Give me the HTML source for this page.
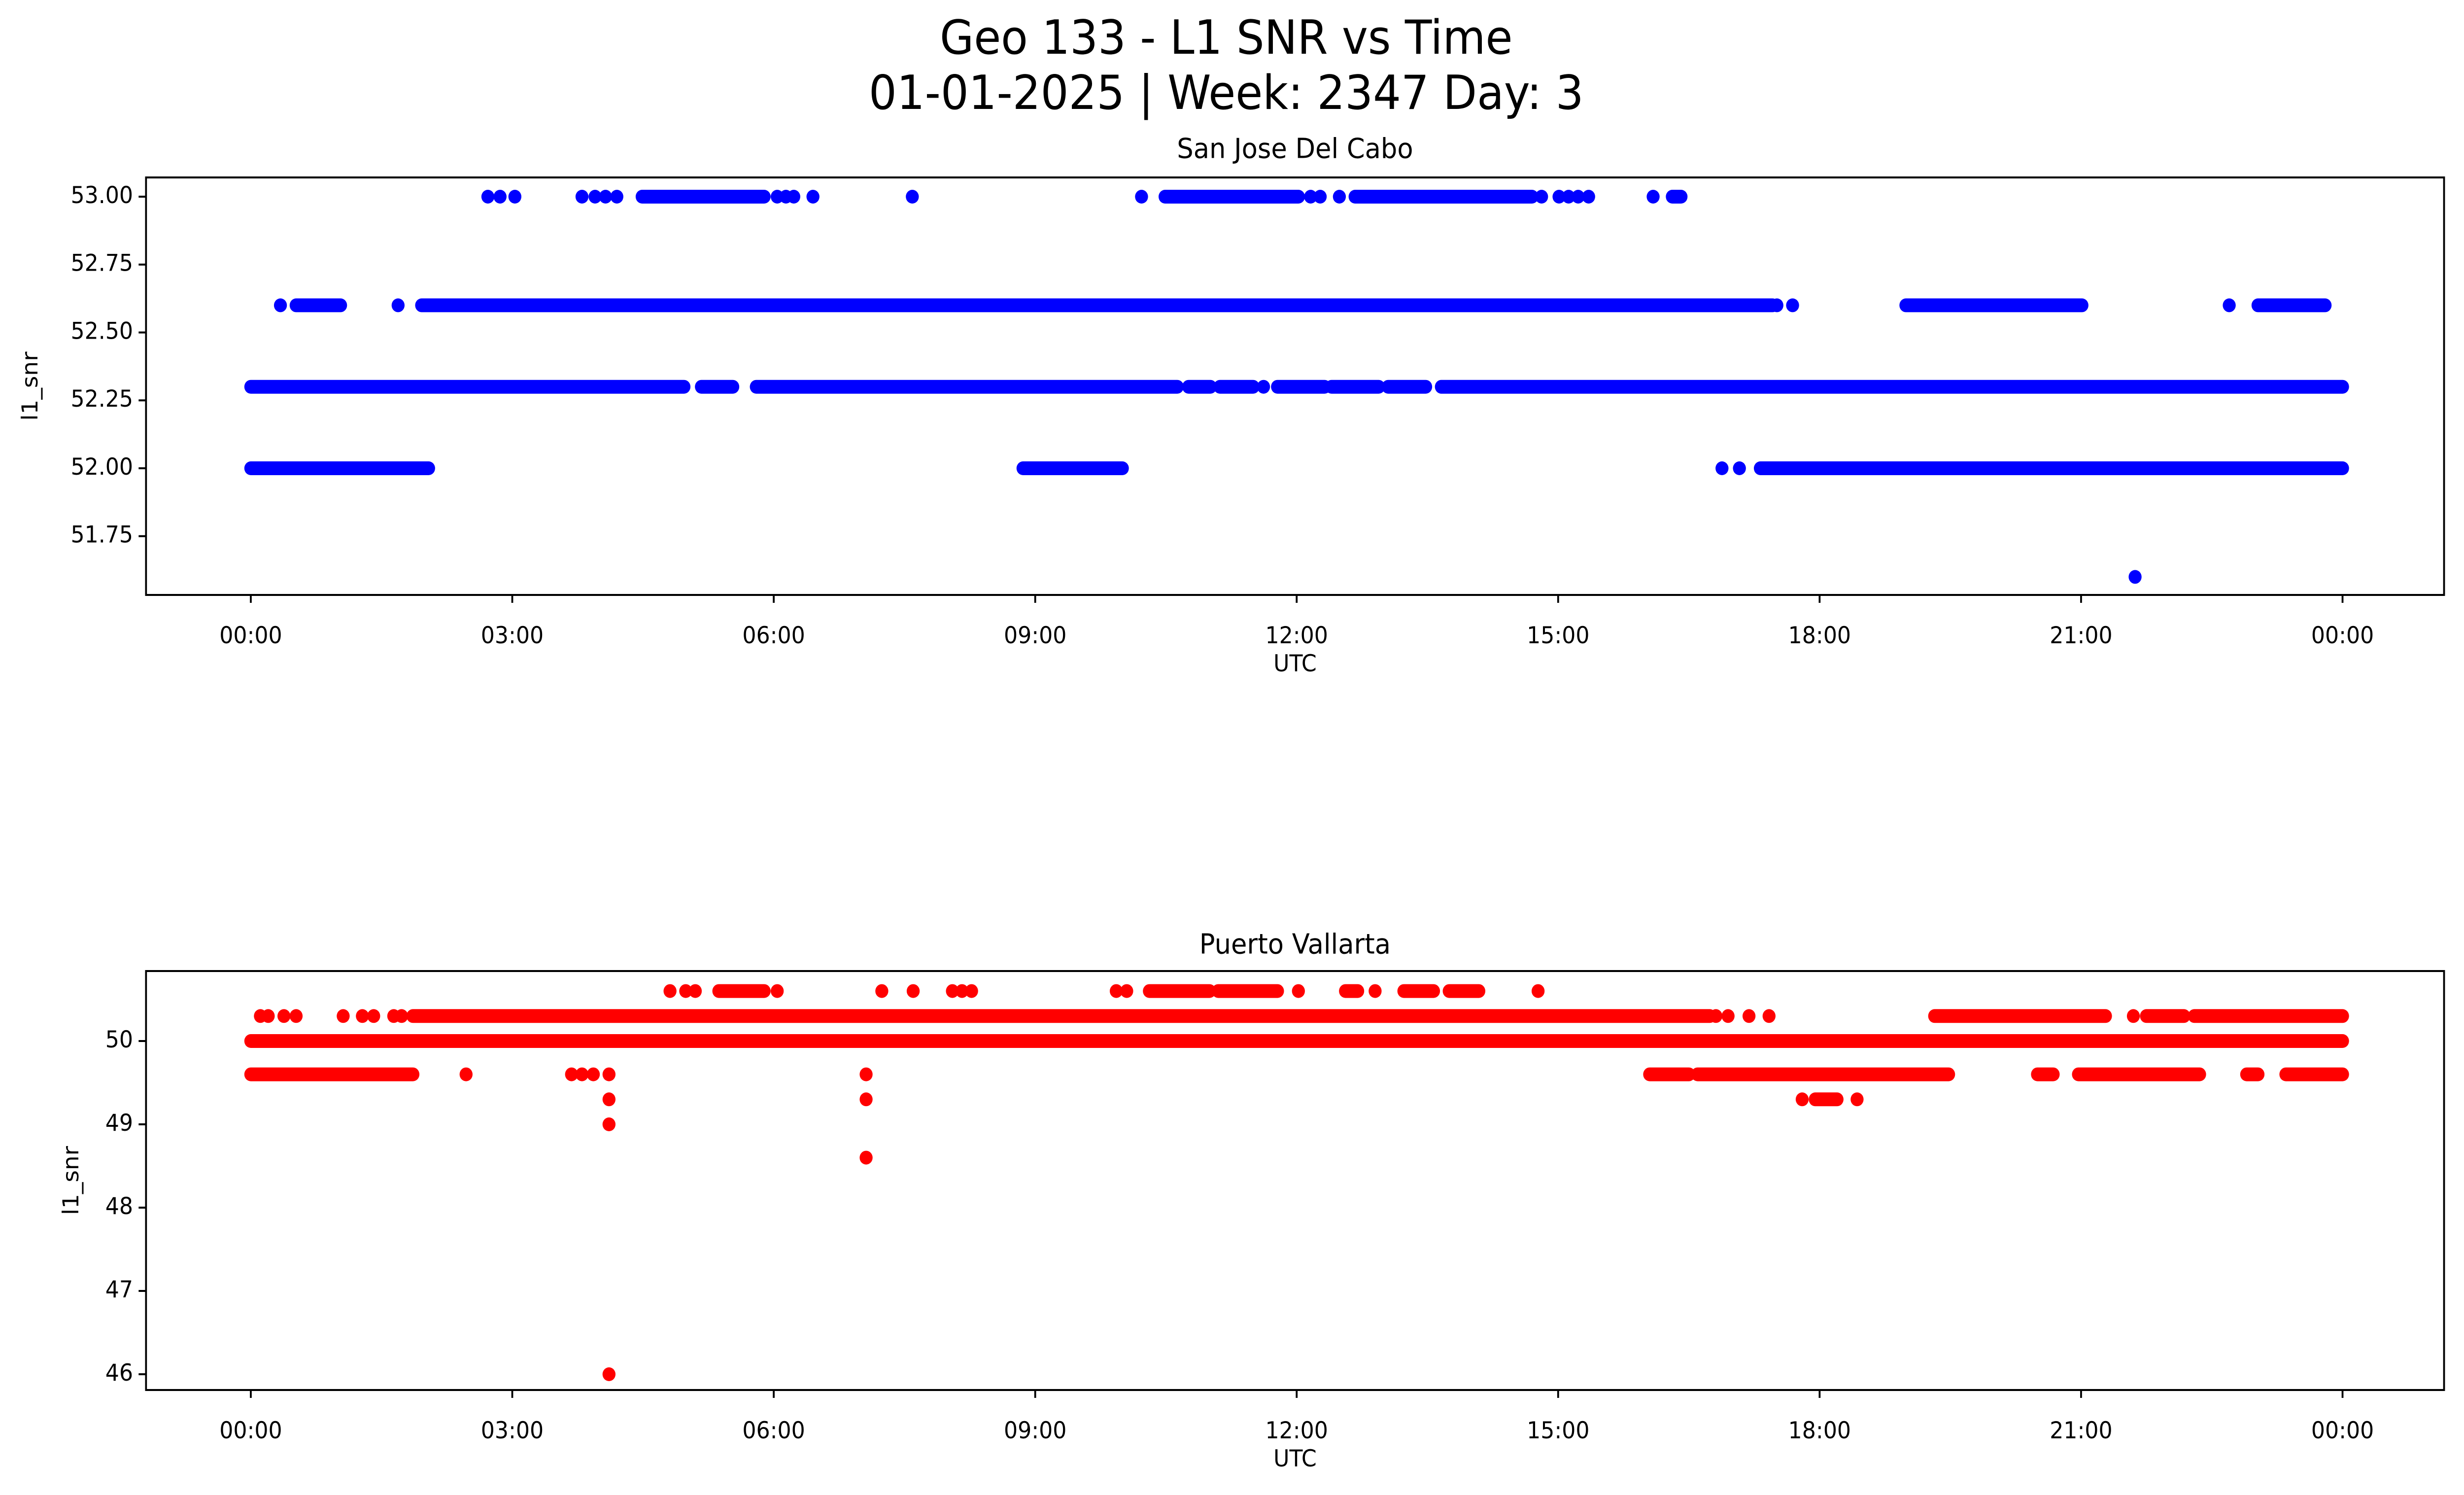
<!DOCTYPE html>
<html><head><meta charset="utf-8"><style>
html,body{margin:0;padding:0;background:#fff;width:100%;height:100%;overflow:hidden;}
svg{display:block;position:absolute;left:0;top:0;width:100vw;height:100vh;font-family:"DejaVu Sans","Liberation Sans",sans-serif;}
</style></head><body>
<svg id="fig" viewBox="0 0 5315 3033" preserveAspectRatio="none" xmlns="http://www.w3.org/2000/svg">
<rect width="5315" height="3033" fill="#fff"/>
<text x="2645" y="83" font-size="95" text-anchor="middle" dominant-baseline="middle">Geo 133 - L1 SNR vs Time</text>
<text x="2645" y="195" font-size="95" text-anchor="middle" dominant-baseline="middle">01-01-2025 | Week: 2347 Day: 3</text>
<g id="top"></g>
<g id="bot"></g>
</svg>
<script>
// X axis (hours UTC)
const xTickHours = [0,3,6,9,12,15,18,21,24];
const xTickLabels = ["00:00","03:00","06:00","09:00","12:00","15:00","18:00","21:00","00:00"];
// San Jose Del Cabo
const sjTicks = [51.75,52.00,52.25,52.50,52.75,53.00];
const sjTickLabels = ["51.75","52.00","52.25","52.50","52.75","53.00"];
// runs: [startHour, endHour, value]
const sjRuns = [
 [4.49,5.89,53.0],[10.49,12.02,53.0],[12.67,14.70,53.0],[16.31,16.41,53.0],
 [0.52,1.03,52.6],[1.96,17.46,52.6],[18.99,21.01,52.6],[23.03,23.80,52.6],
 [0,4.97,52.3],[5.17,5.53,52.3],[5.80,10.63,52.3],[10.76,11.01,52.3],[11.12,11.50,52.3],
 [11.78,12.32,52.3],[12.40,12.94,52.3],[13.05,13.48,52.3],[13.66,24.0,52.3],
 [0,2.04,52.0],[8.86,10.0,52.0],[17.32,24.0,52.0]
];
const sjTimes = [2.72,2.86,3.03,3.80,3.95,4.07,4.20,6.04,6.14,6.23,6.45,7.59,10.22,12.16,12.27,12.49,14.81,15.01,15.12,15.23,15.35,16.09,
 0.34,1.69,17.51,17.69,22.70,
 11.62,
 16.88,17.08,
 21.62];
const sjValues = [53,53,53,53,53,53,53,53,53,53,53,53,53,53,53,53,53,53,53,53,53,53,
 52.6,52.6,52.6,52.6,52.6,
 52.3,
 52.0,52.0,
 51.6];
// Puerto Vallarta
const pvTicks = [46,47,48,49,50];
const pvTickLabels = ["46","47","48","49","50"];
const pvRuns = [
 [0,24.0,50.0],
 [1.86,16.74,50.3],[19.32,21.28,50.3],[21.75,22.18,50.3],[22.30,24.0,50.3],
 [5.37,5.89,50.6],[10.31,11.0,50.6],[11.10,11.78,50.6],[12.56,12.70,50.6],[13.23,13.57,50.6],[13.75,14.09,50.6],
 [0,1.86,49.6],[16.05,16.5,49.6],[16.6,19.48,49.6],[20.5,20.68,49.6],[20.97,22.36,49.6],[22.9,23.03,49.6],[23.35,24.0,49.6],
 [17.95,18.2,49.3]
];
const pvTimes = [0.11,0.2,0.38,0.52,1.06,1.28,1.41,1.64,1.73,16.81,16.95,17.19,17.42,21.6,
 4.81,4.99,5.1,6.04,7.24,7.6,8.05,8.16,8.27,9.93,10.05,12.02,12.9,14.77,
 2.47,3.68,3.8,3.93,4.11,7.06,
 4.11,7.06,17.8,18.43,
 4.11,7.06,4.11];
const pvValues = [50.3,50.3,50.3,50.3,50.3,50.3,50.3,50.3,50.3,50.3,50.3,50.3,50.3,50.3,
 50.6,50.6,50.6,50.6,50.6,50.6,50.6,50.6,50.6,50.6,50.6,50.6,50.6,50.6,
 49.6,49.6,49.6,49.6,49.6,49.6,
 49.3,49.3,49.3,49.3,
 49.0,48.6,46.0];

const NS="http://www.w3.org/2000/svg";
function mk(parent,tag,attrs){const e=document.createElementNS(NS,tag);for(const k in attrs)e.setAttribute(k,attrs[k]);parent.appendChild(e);return e;}
const L=315,R=5272,X0=541,X24=5053;
const xs=h=>X0+(X24-X0)*h/24;

function panel(g,cfg){
 const ys=v=>cfg.y0px+(cfg.y0v-v)*cfg.ppu;
 const color=cfg.color;
 const t=mk(g,'text',{x:(L+R)/2,y:cfg.titleY,'font-size':56,'text-anchor':'middle','dominant-baseline':'middle'});
 t.textContent=cfg.title;
 
 
 cfg.runs.forEach(r=>{
  const ln=mk(g,'line',{x1:xs(r[0]),x2:xs(r[1]),y1:ys(r[2]),y2:ys(r[2]),stroke:color,'stroke-width':28,'stroke-linecap':'round'});
  
  
 });
 cfg.times.forEach((h,i)=>{
  const c=mk(g,'circle',{cx:xs(h),cy:ys(cfg.values[i]),r:14,fill:color});
  
  
 });
 const fr=mk(g,'rect',{x:L,y:cfg.top,width:R-L,height:cfg.bottom-cfg.top,fill:'none',stroke:'#000','stroke-width':4});
 
 
 xTickHours.forEach((h,i)=>{
  const tk=mk(g,'line',{x1:xs(h),x2:xs(h),y1:cfg.bottom,y2:cfg.bottom+16,stroke:'#000','stroke-width':4});
  
  
  const tl=mk(g,'text',{x:xs(h),y:cfg.bottom+85,'font-size':47,'text-anchor':'middle','dominant-baseline':'middle'});
  tl.textContent=xTickLabels[i];
  
  
 });
 cfg.ticks.forEach((v,i)=>{
  const tk=mk(g,'line',{x1:L-16,x2:L,y1:ys(v),y2:ys(v),stroke:'#000','stroke-width':4});
  
  
  const tl=mk(g,'text',{x:L-28,y:ys(v),'font-size':47,'text-anchor':'end','dominant-baseline':'middle'});
  tl.textContent=cfg.tickLabels[i];
  
  
 });
 const xl=mk(g,'text',{x:(L+R)/2,y:cfg.bottom+142,'font-size':47,'text-anchor':'middle','dominant-baseline':'middle'});
 xl.textContent='UTC';
 
 
 const yc=(cfg.top+cfg.bottom)/2;
 const yl=mk(g,'text',{x:cfg.ylabX,y:yc,'font-size':47,'text-anchor':'middle','dominant-baseline':'middle',transform:`rotate(-90 ${cfg.ylabX} ${yc})`});
 yl.textContent='l1_snr';
 
 
}
panel(document.getElementById('top'),{key:'san-jose',title:'San Jose Del Cabo',color:'#0000ff',
 top:360,bottom:1207,y0v:53,y0px:399,ppu:551,titleY:305,ylabX:68,
 ticks:sjTicks,tickLabels:sjTickLabels,runs:sjRuns,times:sjTimes,values:sjValues});
panel(document.getElementById('bot'),{key:'puerto-vallarta',title:'Puerto Vallarta',color:'#ff0000',
 top:1970,bottom:2820,y0v:50,y0px:2112,ppu:169,titleY:1919,ylabX:156,
 ticks:pvTicks,tickLabels:pvTickLabels,runs:pvRuns,times:pvTimes,values:pvValues});
</script>
</body></html>
